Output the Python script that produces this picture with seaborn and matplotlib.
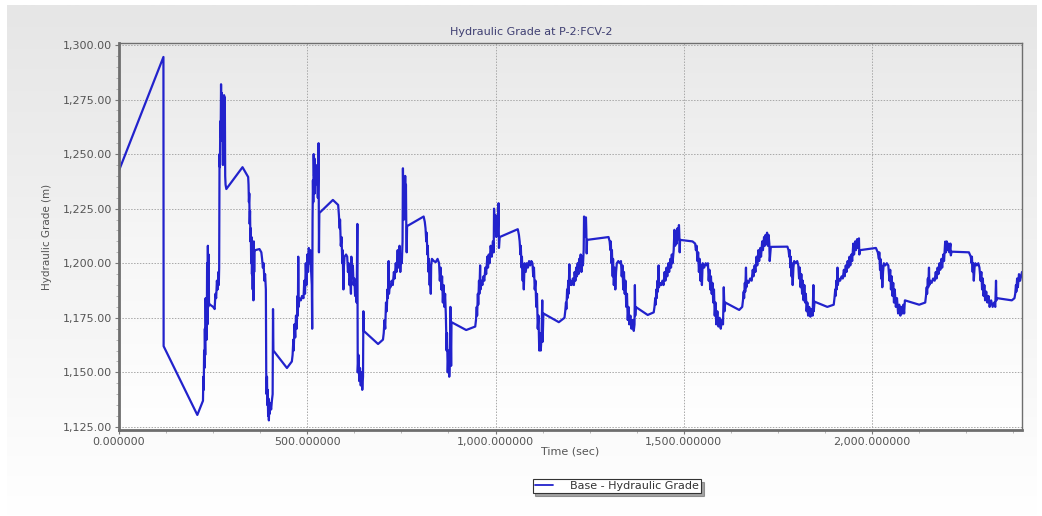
import numpy as np
import pandas as pd
import matplotlib
matplotlib.use("Agg")
import matplotlib.pyplot as plt
import matplotlib.ticker as mticker
import seaborn as sns

# Hydraulic grade time series at P-2:FCV-2 (time in s, grade in m)
time_s = [
    0, 118, 118.5, 208, 222,
    223, 224, 225, 226, 227, 228, 229, 230, 231, 232, 233, 234, 235, 236, 237, 238, 239, 240,
    242, 250, 254,
    256, 258, 260, 262, 264, 265,
    266, 267, 268, 269, 270, 271, 272, 273, 274, 275, 276, 277, 278, 279, 280, 281, 282, 283, 285,
    328, 343,
    344, 345, 346, 347, 348, 349, 350, 351, 352, 353, 354, 355, 356, 357, 358, 359, 360,
    362, 373, 378,
    380, 382, 384, 386, 388, 390,
    391, 392, 393, 394, 395, 396, 397, 398, 399, 400, 402, 404, 406, 408, 409, 410,
    446, 459,
    461, 463, 464, 466, 468, 470, 472, 474, 475, 476, 477, 479, 483, 486, 490, 492, 494, 496,
    498, 500, 502, 504, 506, 508, 510, 512, 513,
    514, 515, 516, 517, 518, 519, 520, 521, 522, 524, 526, 528, 530, 531, 532,
    568, 582,
    584, 586, 587, 589, 591, 593, 594, 596, 597, 599, 603, 606, 608, 610, 612, 614, 616,
    617, 619, 621, 623, 625, 627, 629, 631, 633, 634, 636, 638, 640, 642, 644, 646, 648,
    649, 650,
    688, 701,
    703, 705, 707, 709, 711, 713, 714, 716, 717, 719, 721, 724, 727, 730, 732, 735, 737, 740,
    742, 745, 747, 749, 751, 753,
    754, 755, 756, 757, 758, 759, 760, 761, 762, 763, 764, 765,
    809, 812,
    814, 816, 817, 819, 820, 822, 823, 825, 826, 828, 829, 831, 836, 841, 846, 850, 852, 854,
    856, 858, 860, 862, 864, 866, 868, 870, 871, 873, 875, 877, 879, 880, 881, 882, 883,
    922, 946,
    948, 950, 951, 953, 954, 956, 957, 959, 960, 962, 965, 968, 970, 973, 975, 978, 980, 982,
    984, 987, 990, 993, 995, 996, 998, 1000, 1002, 1004, 1006, 1008, 1009, 1011,
    1059, 1062,
    1064, 1066, 1067, 1069, 1070, 1072, 1073, 1075, 1077, 1080, 1083, 1086, 1089, 1092, 1095,
    1098, 1100, 1102, 1104, 1106, 1108, 1110, 1112, 1114, 1116, 1118, 1120, 1122, 1124, 1125, 1127,
    1168, 1183,
    1185, 1187, 1188, 1190, 1191, 1193, 1194, 1196, 1197, 1199, 1202, 1205, 1208, 1210, 1212,
    1214, 1216, 1218, 1220, 1222, 1224, 1226, 1228, 1230, 1232, 1234,
    1235, 1236, 1237, 1238, 1239, 1240, 1241, 1242, 1243,
    1300, 1303,
    1305, 1306, 1308, 1309, 1311, 1312, 1314, 1316, 1318, 1320, 1322, 1326, 1330, 1333, 1335,
    1337, 1339, 1341, 1343, 1345, 1347, 1349, 1351, 1353, 1355, 1358, 1361, 1364, 1367, 1369,
    1370, 1371, 1372,
    1404, 1420,
    1422, 1424, 1425, 1427, 1428, 1430, 1431, 1433, 1434, 1436, 1440, 1443, 1446, 1449, 1451,
    1454, 1456, 1459, 1461, 1464, 1466, 1468, 1470,
    1473, 1475, 1477, 1479, 1481, 1483, 1485, 1487, 1488, 1489, 1490,
    1523, 1530,
    1532, 1534, 1536, 1538, 1540, 1542, 1544, 1546, 1548, 1550, 1554, 1558, 1561, 1564, 1566,
    1568, 1570, 1572, 1574, 1576, 1578, 1580, 1582, 1584, 1586, 1589, 1592, 1595, 1598, 1601,
    1604, 1606, 1608, 1610,
    1647, 1655,
    1657, 1659, 1660, 1662, 1663, 1665, 1666, 1668, 1672, 1676, 1680, 1683, 1685, 1688, 1690,
    1693, 1695, 1698, 1700, 1703, 1705, 1708, 1710,
    1713, 1715, 1717, 1719, 1721, 1723, 1725, 1727, 1728, 1731,
    1775, 1778,
    1780, 1781, 1783, 1784, 1786, 1787, 1789, 1791, 1793, 1797, 1801, 1804, 1806, 1808, 1810,
    1812, 1814, 1816, 1818, 1820, 1822, 1824, 1826, 1828, 1830, 1833, 1836, 1839, 1842, 1844,
    1845, 1847,
    1881, 1898,
    1900, 1902, 1903, 1905, 1906, 1908, 1909, 1911, 1915, 1919, 1922, 1925, 1927, 1930, 1932,
    1935, 1937, 1940, 1942, 1945, 1947, 1950, 1952, 1955, 1957, 1960, 1962, 1965, 1966, 1968,
    2010, 2015,
    2018, 2019, 2021, 2022, 2024, 2025, 2027, 2029, 2031, 2035, 2039, 2043, 2046, 2048, 2050,
    2052, 2054, 2056, 2058, 2060, 2063, 2066, 2069, 2072, 2075, 2078, 2081, 2083, 2085, 2087,
    2125, 2141,
    2143, 2145, 2146, 2148, 2149, 2151, 2152, 2154, 2158, 2162, 2166, 2169, 2171, 2174, 2176,
    2179, 2181, 2184, 2186, 2189, 2191, 2194, 2196, 2198, 2200, 2203, 2205, 2208, 2209, 2211,
    2257, 2262,
    2264, 2265, 2267, 2268, 2270, 2272, 2274, 2278, 2282, 2285, 2288, 2290, 2292, 2294, 2296,
    2298, 2300, 2303, 2306, 2309, 2312, 2316, 2320, 2324, 2327, 2329, 2330, 2332,
    2371, 2378,
    2380, 2382, 2383, 2385, 2387, 2390, 2393, 2398,
]

grade_m = [
    1242.5, 1294.5, 1162, 1130.5, 1136.5,
    1137, 1148, 1142, 1160, 1152, 1170, 1158, 1184, 1168, 1178, 1165, 1200, 1172, 1208, 1180, 1204, 1182, 1181,
    1181, 1180, 1179,
    1186, 1184, 1192, 1188, 1196, 1190,
    1198, 1250, 1244, 1265, 1258, 1282, 1262, 1278, 1256, 1270, 1245, 1272, 1248, 1277, 1260, 1276, 1240, 1236, 1234,
    1244, 1239.5,
    1236, 1228, 1232, 1218, 1224, 1210, 1216, 1200, 1212, 1195, 1203, 1188, 1206, 1183, 1210, 1196, 1206,
    1206, 1206.5, 1205,
    1202, 1198, 1200, 1192, 1195, 1188,
    1150, 1140, 1148, 1135, 1142, 1130, 1138, 1128, 1134, 1131, 1136, 1133, 1137, 1140, 1179, 1160,
    1152, 1155,
    1158, 1165, 1160, 1172, 1166, 1176, 1170, 1185, 1176, 1203, 1180, 1184, 1183, 1185, 1184, 1192, 1186, 1200,
    1190, 1204, 1196, 1207, 1200, 1206, 1197, 1190, 1170,
    1220, 1238, 1228, 1250, 1240, 1248, 1232, 1244, 1236, 1240, 1245, 1230, 1255, 1205, 1223,
    1229, 1226.7,
    1222, 1216, 1220, 1208, 1212, 1200, 1206, 1188, 1198, 1203, 1204, 1203, 1196, 1200, 1190, 1194, 1186,
    1203, 1195, 1199, 1190, 1193, 1185, 1188, 1182, 1218, 1150, 1158, 1146, 1152, 1144, 1150, 1142, 1148,
    1178, 1169,
    1163, 1165,
    1168, 1174, 1170, 1182, 1178, 1188, 1184, 1201, 1186, 1190, 1189, 1192, 1190, 1196, 1193, 1200, 1196, 1206,
    1198, 1208, 1196, 1204, 1200, 1210,
    1243.5, 1230, 1238, 1220, 1232, 1225, 1240, 1222, 1236, 1215, 1205, 1217,
    1221.4, 1219,
    1216, 1210, 1214, 1204, 1208, 1196, 1202, 1190, 1196, 1186, 1199, 1202, 1201, 1200.5, 1202, 1200, 1192, 1198,
    1188, 1194, 1182, 1190, 1180, 1186, 1176, 1160, 1168, 1150, 1160, 1148, 1156, 1180, 1165, 1153, 1173,
    1169.4, 1171,
    1174, 1180, 1176, 1186, 1181, 1192, 1186, 1199, 1188, 1192, 1190, 1194, 1192, 1198, 1195, 1203, 1198, 1204,
    1200, 1208, 1203, 1210, 1205, 1225, 1215, 1222, 1212, 1220, 1214, 1227.5, 1207, 1212,
    1215.6, 1213,
    1210, 1204, 1208, 1198, 1203, 1192, 1198, 1188, 1200, 1196, 1200, 1198, 1201, 1199, 1201,
    1200, 1194, 1198, 1188, 1192, 1180, 1186, 1170, 1176, 1160, 1168, 1160, 1166, 1183, 1164, 1177,
    1173, 1175,
    1178, 1182, 1179, 1188, 1184, 1192, 1186, 1199.5, 1190, 1192, 1190, 1193, 1190, 1196, 1192,
    1198, 1194, 1200, 1195, 1202, 1198, 1204, 1196, 1203, 1199, 1206,
    1221.4, 1214, 1220, 1212, 1218, 1221, 1215, 1204.5, 1210.7,
    1212, 1210,
    1206, 1210, 1200, 1206, 1194, 1202, 1190, 1198, 1188, 1196, 1200, 1201, 1200, 1201, 1194,
    1199, 1188, 1196, 1186, 1192, 1180, 1186, 1174, 1180, 1172, 1176, 1170, 1174, 1169, 1172,
    1190, 1176, 1180,
    1176.3, 1177.5,
    1180, 1184, 1181, 1188, 1184, 1192, 1187, 1199, 1189, 1191, 1190, 1192, 1190, 1196, 1192,
    1198, 1194, 1200, 1196, 1202, 1198, 1204, 1200,
    1206, 1215.3, 1208, 1214, 1209, 1216, 1211, 1217.5, 1213, 1205, 1210.7,
    1210, 1209,
    1206, 1208, 1201, 1205, 1196, 1202, 1192, 1199, 1190, 1200, 1198, 1200, 1199, 1200, 1192,
    1197, 1188, 1194, 1186, 1191, 1182, 1188, 1176, 1182, 1172, 1178, 1171, 1175, 1170, 1174,
    1172, 1189, 1178, 1182,
    1178.6, 1180,
    1183, 1187, 1184, 1191, 1187, 1198, 1189, 1192, 1191, 1193, 1192, 1197, 1194, 1199, 1196,
    1203, 1199, 1206, 1201, 1207, 1203, 1210, 1206,
    1212, 1208, 1213, 1209, 1214, 1208, 1213, 1209, 1201, 1207.5,
    1207.6, 1206,
    1203, 1206, 1198, 1203, 1194, 1200, 1190, 1198, 1201, 1200, 1201, 1199, 1193, 1198, 1189,
    1195, 1186, 1192, 1183, 1190, 1182, 1186, 1178, 1182, 1176, 1180, 1175.5, 1179, 1176, 1190,
    1178, 1182.4,
    1180, 1181,
    1184, 1188, 1185, 1192, 1188, 1198, 1190, 1193, 1192, 1194, 1193, 1197, 1194, 1199, 1196,
    1201, 1198, 1203, 1199, 1204, 1201, 1209, 1204, 1210, 1206, 1211, 1207, 1211.4, 1204, 1206,
    1207, 1205,
    1202, 1205, 1197, 1202, 1193, 1199, 1189, 1196, 1200, 1199, 1200, 1199, 1192, 1197, 1188,
    1194, 1185, 1191, 1182, 1188, 1180, 1184, 1177, 1181, 1176, 1180, 1177, 1181, 1177, 1183,
    1181, 1182,
    1185, 1189, 1186, 1193, 1189, 1198, 1190, 1192, 1191, 1193, 1192, 1196, 1193, 1198, 1195,
    1200, 1197, 1202, 1198, 1204, 1201, 1209.9, 1205, 1210, 1206, 1209, 1205, 1209, 1203.6, 1205.3,
    1205, 1203,
    1200, 1203, 1196, 1200, 1192, 1198, 1200, 1199, 1200, 1198, 1192, 1196, 1188, 1193, 1185,
    1190, 1183, 1187, 1182, 1185, 1180, 1183, 1180, 1182, 1180, 1192, 1183, 1184,
    1183, 1184,
    1186, 1190, 1187, 1193, 1189, 1195, 1192, 1196,
]

series_label = "Base - Hydraulic Grade"
chart_title = "Hydraulic Grade at P-2:FCV-2"

df = pd.DataFrame({"Time (sec)": time_s, "Hydraulic Grade (m)": grade_m})

sns.set_theme(style="white")
plt.rcParams["font.family"] = ["DejaVu Sans"]

W, H = 1042, 516
fig = plt.figure(figsize=(W / 100, H / 100), dpi=100)
fig.patch.set_facecolor("white")

# soft panel behind everything
bg = fig.add_axes([0.007, 0.0, 0.988, 0.99], zorder=-5)
grad = np.linspace(0, 1, 256).reshape(-1, 1)
bg_cmap = matplotlib.colors.LinearSegmentedColormap.from_list(
    "panel", ["#e6e6e6", "#f2f2f2", "#ffffff"])
bg.imshow(grad, aspect="auto", cmap=bg_cmap, extent=[0, 1, 0, 1], origin="upper")
bg.set_axis_off()

ax = fig.add_axes([119 / W, 1 - 430 / H, (1022 - 119) / W, (430 - 43) / H])
ax.set_xlim(0, 2398)
ax.set_ylim(1123.6, 1300.9)

# plot area gradient
area_cmap = matplotlib.colors.LinearSegmentedColormap.from_list(
    "area", ["#e9e9e9", "#f6f6f6", "#ffffff"])
ax.imshow(grad, aspect="auto", cmap=area_cmap,
          extent=[0, 2398, 1123.6, 1300.9], origin="upper", zorder=0)

sns.lineplot(data=df, x="Time (sec)", y="Hydraulic Grade (m)", ax=ax,
             sort=False, estimator=None, color="#2222cc", linewidth=1.6,
             label=series_label, zorder=3)

ax.xaxis.set_major_locator(mticker.MultipleLocator(500))
ax.xaxis.set_minor_locator(mticker.MultipleLocator(125))
ax.yaxis.set_major_locator(mticker.MultipleLocator(25))
ax.yaxis.set_minor_locator(mticker.MultipleLocator(5))
ax.xaxis.set_major_formatter(mticker.FuncFormatter(lambda v, p: f"{v:,.6f}"))
ax.yaxis.set_major_formatter(mticker.FuncFormatter(lambda v, p: f"{v:,.2f}"))

ax.grid(True, which="major", color="#a8a8a8", linestyle=(0, (1.5, 1.5)), linewidth=0.7, zorder=1)
ax.set_axisbelow(False)
for line in ax.get_xgridlines() + ax.get_ygridlines():
    line.set_zorder(1)

ax.tick_params(axis="both", which="major", direction="out", length=3, width=0.8,
               color="#777777", labelsize=8, labelcolor="#555555", pad=2,
               bottom=True, left=True)
ax.tick_params(axis="both", which="minor", direction="out", length=2, width=0.6,
               color="#aaaaaa", bottom=True, left=True)

for side, sp in ax.spines.items():
    sp.set_color("#6e6e6e")
    sp.set_linewidth(1.0)
    sp.set_zorder(4)
ax.spines["left"].set_linewidth(2.0)
ax.spines["bottom"].set_linewidth(2.0)

ax.set_xlabel("Time (sec)", fontsize=8, color="#555555", labelpad=0)
ax.set_ylabel("Hydraulic Grade (m)", fontsize=7.5, color="#555555", labelpad=8)

fig.text(531 / W, 1 - 32 / H, chart_title, ha="center", va="center",
         fontsize=8, color="#3f3f72")

ax.get_legend().remove()
handles, labels = ax.get_legend_handles_labels()
leg = fig.legend(handles, labels, loc="center", bbox_to_anchor=(617 / W, 1 - 486 / H),
                 fontsize=8, frameon=True, fancybox=False, shadow=True,
                 handlelength=1.6, handletextpad=1.6, borderpad=0.2, borderaxespad=0,
                 labelcolor="#333333")
leg.get_frame().set_edgecolor("#333333")
leg.get_frame().set_linewidth(0.8)
leg.get_frame().set_facecolor("white")
for lh in leg.get_lines():
    lh.set_linewidth(1.3)

fig.savefig("out.png", dpi=100)
